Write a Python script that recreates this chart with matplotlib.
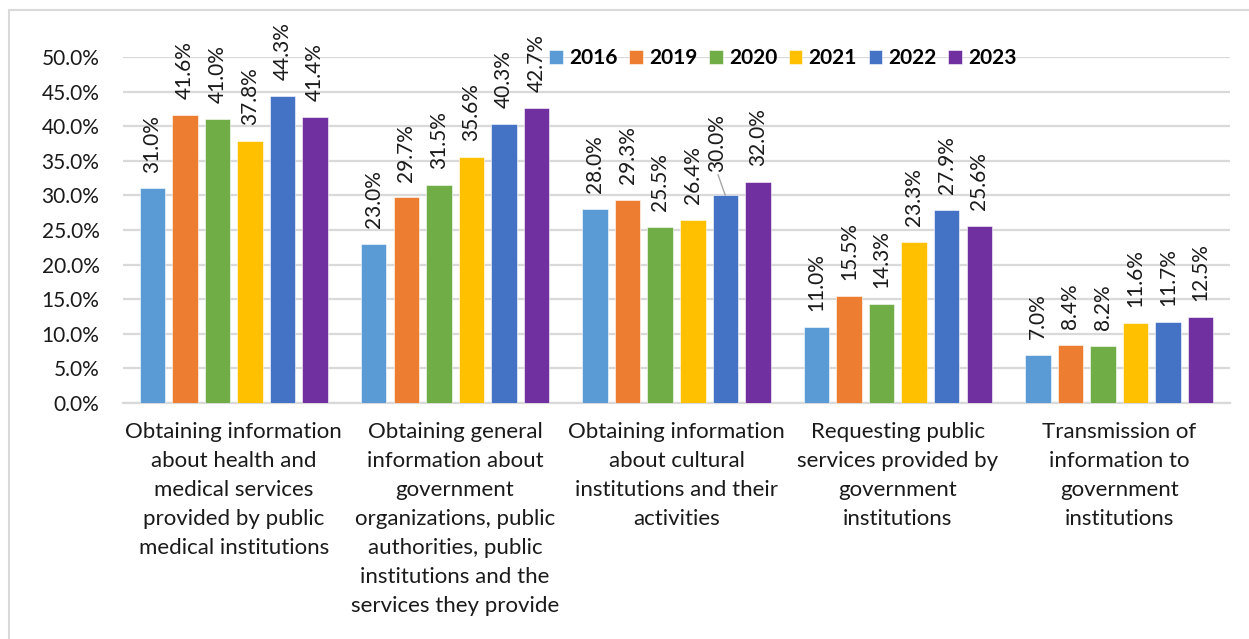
import matplotlib
matplotlib.use("Agg")
import matplotlib.pyplot as plt
from matplotlib.patches import Rectangle
import numpy as np

plt.rcParams['font.family'] = ['Lato', 'DejaVu Sans']

categories = [
    "Obtaining information\nabout health and\nmedical services\nprovided by public\nmedical institutions",
    "Obtaining general\ninformation about\ngovernment\norganizations, public\nauthorities, public\ninstitutions and the\nservices they provide",
    "Obtaining information\nabout cultural\ninstitutions and their\nactivities",
    "Requesting public\nservices provided by\ngovernment\ninstitutions",
    "Transmission of\ninformation to\ngovernment\ninstitutions",
]
years = ["2016", "2019", "2020", "2021", "2022", "2023"]
values_2016 = [31.0, 23.0, 28.0, 11.0, 7.0]
values_2019 = [41.6, 29.7, 29.3, 15.5, 8.4]
values_2020 = [41.0, 31.5, 25.5, 14.3, 8.2]
values_2021 = [37.8, 35.6, 26.4, 23.3, 11.6]
values_2022 = [44.3, 40.3, 30.0, 27.9, 11.7]
values_2023 = [41.4, 42.7, 32.0, 25.6, 12.5]
series = [values_2016, values_2019, values_2020, values_2021, values_2022, values_2023]
colors = ["#5B9BD5", "#ED7D31", "#70AD47", "#FFC000", "#4472C4", "#7030A0"]
yticks = [0, 5, 10, 15, 20, 25, 30, 35, 40, 45, 50]

fig = plt.figure(figsize=(12.49, 6.39), dpi=100)
ax = fig.add_axes([123/1249, 1-403/639, (1230-123)/1249, (403-57)/639])

x = np.arange(len(categories))
step = 0.147
width = 0.115
fs = 15
for i, (vals, col, yr) in enumerate(zip(series, colors, years)):
    pos = x + (i - 2.5) * step
    ax.bar(pos, vals, width=width, color=col, label=yr, zorder=3,
           edgecolor='white', linewidth=0.4)
    for j, (p, v) in enumerate(zip(pos, vals)):
        if yr == "2022" and j == 2:
            ax.annotate(f"{v:.1f}%", xy=(p, v), xytext=(-6, 17), textcoords='offset points',
                        rotation=90, ha='center', va='bottom', fontsize=fs, color='#1a1a1a',
                        arrowprops=dict(arrowstyle='-', color='#a6a6a6', lw=1,
                                        shrinkA=0, shrinkB=0,
                                        relpos=(0.5, 0.0)))
        else:
            ax.annotate(f"{v:.1f}%", xy=(p, v), xytext=(0, 11.5), textcoords='offset points',
                        rotation=90, ha='center', va='bottom', fontsize=fs, color='#1a1a1a')

ax.set_xlim(-0.5, len(categories) - 0.5)
ax.set_ylim(0, 50)
ax.set_yticks(yticks)
ax.set_yticklabels([f"{t:.1f}%" for t in yticks], fontsize=fs, color='#1a1a1a')
ax.set_xticks(x)
ax.set_xticklabels(categories, fontsize=16, color='#1a1a1a', linespacing=1.56)
ax.tick_params(axis='both', length=0)
ax.tick_params(axis='y', pad=17)
ax.tick_params(axis='x', pad=14)
ax.grid(axis='y', color='#d9d9d9', linewidth=1.6, zorder=0)
for s in ['top', 'right', 'left']:
    ax.spines[s].set_visible(False)
ax.spines['bottom'].set_color('#d9d9d9')
ax.spines['bottom'].set_linewidth(1.6)
ax.set_axisbelow(True)

leg = fig.legend(loc='center', bbox_to_anchor=(783/1249, 1-58/639), ncol=6, frameon=False,
                 prop={'size': fs, 'weight': 'bold'}, handlelength=0.65, handleheight=0.65,
                 handletextpad=0.3, columnspacing=0.56)

fig.patches.append(Rectangle((9/1249, -0.1), 1.2, 1-10/639 + 0.1, transform=fig.transFigure,
                             fill=False, edgecolor='#d9d9d9', linewidth=1.5, zorder=0))

fig.savefig("out.png", dpi=100)
